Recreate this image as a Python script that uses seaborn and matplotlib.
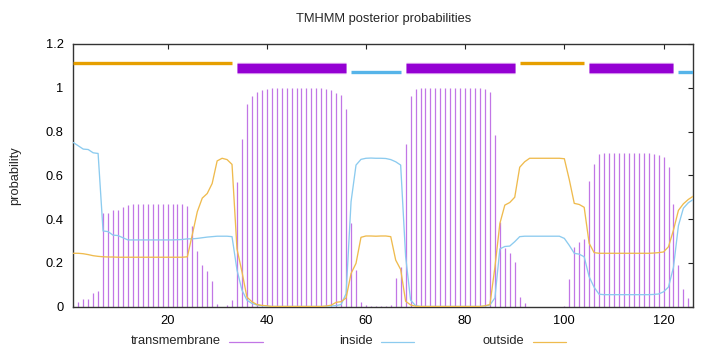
import numpy as np
import pandas as pd
import matplotlib
matplotlib.use("Agg")
import matplotlib.pyplot as plt
from matplotlib.lines import Line2D
import seaborn as sns

# ---------------- data ----------------
positions = list(range(1, 127))

transmembrane = [
    0.010, 0.023, 0.035, 0.035, 0.064, 0.070,
    0.430, 0.430, 0.443, 0.443, 0.455, 0.464,
    0.469, 0.469, 0.469, 0.469, 0.469, 0.469, 0.469, 0.469, 0.469, 0.469, 0.469,
    0.461, 0.367, 0.254, 0.189, 0.163, 0.117, 0.012, 0.000, 0.008, 0.030,
    0.568, 0.764, 0.926, 0.962, 0.982, 0.990, 0.994,
    0.998, 0.998, 0.998, 0.998, 0.998, 0.998, 0.998, 0.998, 0.998, 0.998, 0.998,
    0.995, 0.990, 0.975, 0.967, 0.901,
    0.384, 0.168, 0.020, 0.010, 0.003, 0.005, 0.002, 0.003, 0.008, 0.130, 0.183,
    0.745, 0.962, 0.993,
    0.998, 0.998, 0.998, 0.998, 0.998, 0.998, 0.998, 0.998, 0.998, 0.998, 0.998, 0.998, 0.998,
    0.993, 0.982, 0.784, 0.388, 0.267, 0.247, 0.203, 0.043, 0.016,
    0.000, 0.000, 0.000, 0.000, 0.000, 0.000, 0.000,
    0.005, 0.125, 0.274, 0.297, 0.309, 0.574, 0.652, 0.697,
    0.700, 0.700, 0.700, 0.700, 0.700, 0.700, 0.700, 0.700, 0.700, 0.700,
    0.697, 0.693, 0.685, 0.639, 0.469, 0.190, 0.081, 0.038, 0.010,
]

inside = [
    0.750, 0.735, 0.720, 0.718, 0.703, 0.700,
    0.346, 0.343, 0.327, 0.325, 0.315, 0.305,
    0.305, 0.305, 0.305, 0.305, 0.305, 0.305, 0.305, 0.305, 0.305, 0.306, 0.307,
    0.310, 0.310, 0.312, 0.315, 0.318, 0.320, 0.322, 0.322, 0.322, 0.320,
    0.168, 0.076, 0.030, 0.015, 0.008, 0.004, 0.002,
    0.001, 0.001, 0.001, 0.001, 0.001, 0.001, 0.001, 0.001, 0.001, 0.001, 0.001,
    0.002, 0.003, 0.005, 0.010, 0.060,
    0.480, 0.647, 0.673, 0.678, 0.679, 0.678, 0.678, 0.677, 0.672, 0.662, 0.647,
    0.230, 0.030, 0.005,
    0.001, 0.001, 0.001, 0.001, 0.001, 0.001, 0.001, 0.001, 0.001, 0.001, 0.001, 0.001, 0.001,
    0.003, 0.008, 0.040, 0.264, 0.275, 0.277, 0.297, 0.320, 0.322,
    0.322, 0.322, 0.322, 0.322, 0.322, 0.322, 0.322,
    0.312, 0.280, 0.244, 0.240, 0.228, 0.137, 0.089, 0.057,
    0.055, 0.055, 0.055, 0.055, 0.055, 0.055, 0.055, 0.055, 0.055, 0.055,
    0.056, 0.058, 0.068, 0.090, 0.180, 0.370, 0.450, 0.475, 0.490,
]

outside = [
    0.244, 0.244, 0.242, 0.238, 0.233, 0.230,
    0.228, 0.227, 0.227, 0.226, 0.226, 0.226,
    0.226, 0.226, 0.226, 0.226, 0.226, 0.226, 0.226, 0.226, 0.226, 0.226, 0.226,
    0.228, 0.330, 0.434, 0.496, 0.517, 0.563, 0.666, 0.678, 0.672, 0.650,
    0.264, 0.160, 0.044, 0.023, 0.010, 0.006, 0.004,
    0.001, 0.001, 0.001, 0.001, 0.001, 0.001, 0.001, 0.001, 0.001, 0.001, 0.001,
    0.003, 0.007, 0.020, 0.023, 0.040,
    0.152, 0.198, 0.317, 0.323, 0.323, 0.322, 0.323, 0.323, 0.320, 0.213, 0.170,
    0.025, 0.008, 0.002,
    0.001, 0.001, 0.001, 0.001, 0.001, 0.001, 0.001, 0.001, 0.001, 0.001, 0.001, 0.001, 0.001,
    0.004, 0.010, 0.180, 0.380, 0.464, 0.476, 0.500, 0.637, 0.662,
    0.678, 0.678, 0.678, 0.678, 0.678, 0.678, 0.678,
    0.676, 0.580, 0.472, 0.467, 0.454, 0.290, 0.247, 0.244,
    0.244, 0.244, 0.244, 0.244, 0.244, 0.244, 0.244, 0.244, 0.244, 0.244,
    0.245, 0.247, 0.250, 0.274, 0.350, 0.440, 0.470, 0.490, 0.505,
]

# predicted topology segments
seg_start = [1, 34, 57, 68, 91, 105, 123]
seg_end = [33, 56, 67, 90, 104, 122, 126]
seg_type = ["outside", "TMhelix", "inside", "TMhelix", "outside", "TMhelix", "inside"]
seg_level = {"outside": 1.111, "TMhelix": 1.089, "inside": 1.071}

title = "TMHMM posterior probabilities"
ylabel = "probability"
xticks = [20, 40, 60, 80, 100, 120]
yticks = [0, 0.2, 0.4, 0.6, 0.8, 1.0, 1.2]
ytick_labels = ["0", "0.2", "0.4", "0.6", "0.8", "1", "1.2"]
legend_labels = ["transmembrane", "inside", "outside"]

# ---------------- style ----------------
sns.set_style("white")
plt.rcParams["font.family"] = ["Liberation Sans", "DejaVu Sans"]
FS = 9.3

c_tm = "#9400d3"
c_tm_thin = "#c176e6"
c_in = "#56b4e9"
c_in_thin = "#8ccbef"
c_out = "#e69f00"
c_out_thin = "#efbb4e"

W, H = 720, 352
fig = plt.figure(figsize=(W / 100, H / 100), dpi=100)
x0, x1, ytop, ybot = 73.3, 693.3, 44.0, 306.7
ax = fig.add_axes([x0 / W, 1 - ybot / H, (x1 - x0) / W, (ybot - ytop) / H])

df = pd.DataFrame({"pos": positions, "transmembrane": transmembrane,
                   "inside": inside, "outside": outside})

# impulses for transmembrane probability
ax.vlines(df["pos"], 0, df["transmembrane"], colors=c_tm_thin, linewidth=0.9, zorder=2)

# inside / outside curves
sns.lineplot(data=df, x="pos", y="inside", color=c_in_thin, linewidth=0.95, ax=ax, zorder=3)
sns.lineplot(data=df, x="pos", y="outside", color=c_out_thin, linewidth=0.95, ax=ax, zorder=3)

# topology bars
for s, e, t in zip(seg_start, seg_end, seg_type):
    if t == "TMhelix":
        ax.hlines(seg_level[t], s, e, colors="#e3b5f2", linewidth=8.2, zorder=4)
        ax.hlines(seg_level[t], s, e, colors=c_tm, linewidth=6.8, zorder=5)
    elif t == "outside":
        ax.hlines(seg_level[t], s, e, colors=c_out, linewidth=2.4, zorder=4)
    else:
        ax.hlines(seg_level[t], s, e, colors=c_in, linewidth=2.4, zorder=4)

ax.set_xlim(1, 126)
ax.set_ylim(0, 1.2)
ax.set_xticks(xticks)
ax.set_xticklabels([str(v) for v in xticks], fontsize=FS)
ax.set_yticks(yticks)
ax.set_yticklabels(ytick_labels, fontsize=FS)
ax.set_xlabel("")
ax.set_ylabel("")
ax.tick_params(axis="both", direction="in", length=3.5, width=0.8,
               top=True, right=True, colors="#222222", labelcolor="black")
ax.tick_params(axis="y", pad=7)
ax.tick_params(axis="x", pad=6)
for sp in ax.spines.values():
    sp.set_color("#333333")
    sp.set_linewidth(1.0)

fig.text(383.3 / W, 1 - 19 / H, title, ha="center", va="center", fontsize=FS)
fig.text(15 / W, 1 - 175.4 / H, ylabel, ha="center", va="center", rotation=90, fontsize=FS)

# legend (gnuplot style: label then sample)
ly = 1 - 341.5 / H
text_right = [220.7, 372.3, 524.0]
samples = [(229.3, 262.7), (380.7, 414.3), (532.7, 566.3)]
sample_colors = [c_tm_thin, c_in_thin, c_out_thin]
for lab, tr, (a, b), col in zip(legend_labels, text_right, samples, sample_colors):
    fig.text(tr / W, ly, lab, ha="right", va="center", fontsize=FS)
    fig.add_artist(Line2D([a / W, b / W], [ly, ly], color=col, linewidth=0.9,
                          transform=fig.transFigure))

fig.savefig("out.png", dpi=100)
